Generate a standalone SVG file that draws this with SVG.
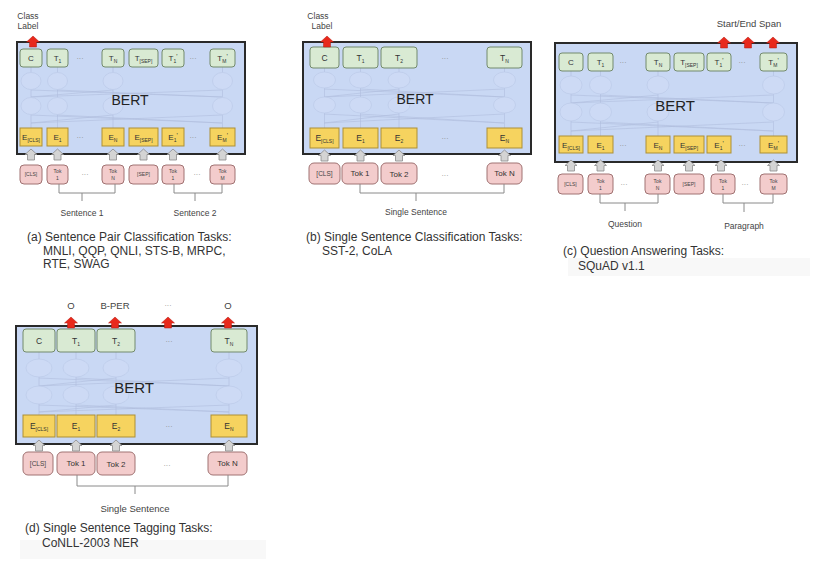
<svg xmlns="http://www.w3.org/2000/svg" width="837" height="571" viewBox="0 0 837 571">
<style>
text{font-family:"Liberation Sans",Arial,sans-serif;fill:#333}
.bert{fill:#c9d8f4;stroke:#2a2a2a;stroke-width:2}
.g{fill:#d9ead3;stroke:#738a6c;stroke-width:1}
.y{fill:#f6d35f;stroke:#ad8f36;stroke-width:1}
.p{fill:#f3cccc;stroke:#a07272;stroke-width:1}
.el{fill:#cddaf5;stroke:#bccae8;stroke-width:0.7}
.nl{stroke:#b0bede;stroke-width:0.6;fill:none}
.br{stroke:#8a8a8a;stroke-width:1;fill:none}
.ga{fill:#d4d4d4;stroke:#8c8c8c;stroke-width:0.8}
.ra{fill:#e8291c;stroke:#b31d12;stroke-width:0.5}
.bt{font-size:14px;fill:#222;text-anchor:middle}
.bt2{font-size:15px;fill:#222;text-anchor:middle}
.lb{font-size:8px;text-anchor:middle;fill:#333}
.lb2{font-size:8.5px;text-anchor:middle;fill:#333}
.sb{font-size:5px}
.pr{font-size:6.5px}
.tk{font-size:5px;text-anchor:middle;fill:#444}
.tk2{font-size:8px;text-anchor:middle;fill:#333}
.tkc{font-size:6.5px;text-anchor:middle;fill:#444}
.dots{font-size:7px;fill:#888;text-anchor:middle}
.cap{font-size:12px;fill:#333}
.sm{font-size:8.5px;text-anchor:middle;fill:#444}
.sm2{font-size:9.5px;text-anchor:middle;fill:#444}
.strip{fill:#f8f8f8}
</style>
<defs>
<polygon id="ga" class="ga" points="0,0 6,5.5 3.5,5.5 3.5,11 -3.5,11 -3.5,5.5 -6,5.5"/>
<polygon id="ra" class="ra" points="0,0 6.5,6 3.5,6 3.5,11 -3.5,11 -3.5,6 -6.5,6"/>
</defs>
<rect width="837" height="571" fill="#ffffff"/>

<!-- ================= PANEL A ================= -->
<g id="panel-a">
  <g id="a-bert">
    <rect class="bert" x="17" y="42" width="228" height="112"/>
    <g id="a-net">
      <path class="nl" d="M31,67V72.5M31,89.5V97.5M31,114.5V128M57.5,67V72.5M57.5,89.5V97.5M57.5,114.5V128M113,67V72.5M113,89.5V97.5M113,114.5V128M222.5,67V72.5M222.5,89.5V97.5M222.5,114.5V128M31,90L222,97M222,90L31,97M57,90L222,97M113,90L31,97M31,115L222,123M222,115L31,123M57,115L222,123M113,115L31,123"/>
      <ellipse class="el" cx="31" cy="81" rx="10" ry="8.5"/>
      <ellipse class="el" cx="57.5" cy="81" rx="10" ry="8.5"/>
      <ellipse class="el" cx="113" cy="81" rx="10" ry="8.5"/>
      <ellipse class="el" cx="222.5" cy="81" rx="10" ry="8.5"/>
      <ellipse class="el" cx="31" cy="106" rx="10" ry="8.5"/>
      <ellipse class="el" cx="57.5" cy="106" rx="10" ry="8.5"/>
      <ellipse class="el" cx="113" cy="106" rx="10" ry="8.5"/>
      <ellipse class="el" cx="222.5" cy="106" rx="10" ry="8.5"/>
    </g>
    <text class="bt" x="130" y="105">BERT</text>
  </g>
  <g id="a-c"><rect class="g" x="20" y="49" width="22" height="18" rx="3"/><text class="lb" x="31" y="61">C</text></g>
  <g id="a-t1"><rect class="g" x="47" y="49" width="21" height="18" rx="3"/><text class="lb" x="57.5" y="61">T<tspan class="sb" dy="2">1</tspan></text></g>
  <text class="dots" x="80" y="61">···</text>
  <g id="a-tn"><rect class="g" x="102" y="49" width="22" height="18" rx="3"/><text class="lb" x="113" y="61">T<tspan class="sb" dy="2">N</tspan></text></g>
  <g id="a-tsep"><rect class="g" x="129" y="49" width="29" height="18" rx="3"/><text class="lb" x="143.5" y="61">T<tspan class="sb" dy="2">[SEP]</tspan></text></g>
  <g id="a-t1p"><rect class="g" x="162" y="49" width="22" height="18" rx="3"/><text class="lb" x="173" y="61">T<tspan class="sb" dy="2">1</tspan><tspan class="pr" dy="-4">'</tspan></text></g>
  <text class="dots" x="193" y="61">···</text>
  <g id="a-tmp"><rect class="g" x="210" y="49" width="25" height="18" rx="3"/><text class="lb" x="222.5" y="61">T<tspan class="sb" dy="2">M</tspan><tspan class="pr" dy="-4">'</tspan></text></g>

  <g id="a-ecls"><rect class="y" x="20" y="128" width="22" height="18"/><text class="lb" x="31" y="140">E<tspan class="sb" dy="2">[CLS]</tspan></text></g>
  <g id="a-e1"><rect class="y" x="47" y="128" width="21" height="18"/><text class="lb" x="57.5" y="140">E<tspan class="sb" dy="2">1</tspan></text></g>
  <text class="dots" x="80" y="140">···</text>
  <g id="a-en"><rect class="y" x="102" y="128" width="22" height="18"/><text class="lb" x="113" y="140">E<tspan class="sb" dy="2">N</tspan></text></g>
  <g id="a-esep"><rect class="y" x="129" y="128" width="29" height="18"/><text class="lb" x="143.5" y="140">E<tspan class="sb" dy="2">[SEP]</tspan></text></g>
  <g id="a-e1p"><rect class="y" x="162" y="128" width="22" height="18"/><text class="lb" x="173" y="140">E<tspan class="sb" dy="2">1</tspan><tspan class="pr" dy="-4">'</tspan></text></g>
  <text class="dots" x="193" y="140">···</text>
  <g id="a-emp"><rect class="y" x="210" y="128" width="25" height="18"/><text class="lb" x="222.5" y="140">E<tspan class="sb" dy="2">M</tspan><tspan class="pr" dy="-4">'</tspan></text></g>

  <g id="a-tokcls"><rect class="p" x="20" y="165" width="22" height="19" rx="4"/><text class="tk" x="31" y="176">[CLS]</text></g>
  <g id="a-tok1"><rect class="p" x="47" y="165" width="21" height="19" rx="4"/><text class="tk" x="57.5" y="173">Tok</text><text class="tk" x="57.5" y="180">1</text></g>
  <text class="dots" x="85" y="177">···</text>
  <g id="a-tokn"><rect class="p" x="102" y="165" width="22" height="19" rx="4"/><text class="tk" x="113" y="173">Tok</text><text class="tk" x="113" y="180">N</text></g>
  <g id="a-toksep"><rect class="p" x="129" y="165" width="29" height="19" rx="4"/><text class="tk" x="143.5" y="176">[SEP]</text></g>
  <g id="a-tok1p"><rect class="p" x="162" y="165" width="22" height="19" rx="4"/><text class="tk" x="173" y="173">Tok</text><text class="tk" x="173" y="180">1</text></g>
  <text class="dots" x="197" y="177">···</text>
  <g id="a-tokm"><rect class="p" x="210" y="165" width="25" height="19" rx="4"/><text class="tk" x="222.5" y="173">Tok</text><text class="tk" x="222.5" y="180">M</text></g>

  <g id="a-label"><text class="sm" x="28" y="19">Class</text><text class="sm" x="28" y="29">Label</text></g>
  <text class="sm" x="82" y="216">Sentence 1</text>
  <text class="sm" x="195" y="216">Sentence 2</text>
  <g id="a-caption">
    <text class="cap" x="27" y="241">(a) Sentence Pair Classification Tasks:</text>
    <text class="cap" x="43" y="255">MNLI, QQP, QNLI, STS-B, MRPC,</text>
    <text class="cap" x="43" y="268">RTE, SWAG</text>
  </g>
</g>

<!-- ================= PANEL B ================= -->
<g id="panel-b">
  <g id="b-bert">
    <rect class="bert" x="303" y="42" width="228" height="112"/>
    <g id="b-net">
      <path class="nl" d="M324.5,68V72M324.5,88V97M324.5,113V128M360.5,68V72M360.5,88V97M360.5,113V128M399,68V72M399,88V97M399,113V128M504.5,68V72M504.5,88V97M504.5,113V128M324,89L504,97M504,89L324,97M360,89L504,97M399,89L324,97M324,114L504,123M504,114L324,123M360,114L504,123M399,114L324,123"/>
      <ellipse class="el" cx="324.5" cy="80" rx="11" ry="8"/>
      <ellipse class="el" cx="360.5" cy="80" rx="11" ry="8"/>
      <ellipse class="el" cx="399" cy="80" rx="11" ry="8"/>
      <ellipse class="el" cx="504.5" cy="80" rx="11" ry="8"/>
      <ellipse class="el" cx="324.5" cy="105" rx="11" ry="8"/>
      <ellipse class="el" cx="360.5" cy="105" rx="11" ry="8"/>
      <ellipse class="el" cx="399" cy="105" rx="11" ry="8"/>
      <ellipse class="el" cx="504.5" cy="105" rx="11" ry="8"/>
    </g>
    <text class="bt" x="415" y="104">BERT</text>
  </g>
  <g id="b-c"><rect class="g" x="310" y="47" width="29" height="21" rx="3"/><text class="lb2" x="324.5" y="61">C</text></g>
  <g id="b-t1"><rect class="g" x="343" y="47" width="35" height="21" rx="3"/><text class="lb2" x="360.5" y="61">T<tspan class="sb" dy="2">1</tspan></text></g>
  <g id="b-t2"><rect class="g" x="381" y="47" width="36" height="21" rx="3"/><text class="lb2" x="399" y="61">T<tspan class="sb" dy="2">2</tspan></text></g>
  <text class="dots" x="445" y="61">···</text>
  <g id="b-tn"><rect class="g" x="487" y="47" width="35" height="21" rx="3"/><text class="lb2" x="504.5" y="61">T<tspan class="sb" dy="2">N</tspan></text></g>

  <g id="b-ecls"><rect class="y" x="310" y="128" width="29" height="20"/><text class="lb2" x="324.5" y="141">E<tspan class="sb" dy="2">[CLS]</tspan></text></g>
  <g id="b-e1"><rect class="y" x="343" y="128" width="35" height="20"/><text class="lb2" x="360.5" y="141">E<tspan class="sb" dy="2">1</tspan></text></g>
  <g id="b-e2"><rect class="y" x="381" y="128" width="36" height="20"/><text class="lb2" x="399" y="141">E<tspan class="sb" dy="2">2</tspan></text></g>
  <text class="dots" x="445" y="141">···</text>
  <g id="b-en"><rect class="y" x="487" y="128" width="35" height="20"/><text class="lb2" x="504.5" y="141">E<tspan class="sb" dy="2">N</tspan></text></g>

  <g id="b-tokcls"><rect class="p" x="309" y="163" width="31" height="21" rx="5"/><text class="tkc" x="324.5" y="176">[CLS]</text></g>
  <g id="b-tok1"><rect class="p" x="342" y="163" width="36" height="21" rx="5"/><text class="tk2" x="360" y="176">Tok 1</text></g>
  <g id="b-tok2"><rect class="p" x="381" y="163" width="36" height="21" rx="5"/><text class="tk2" x="399" y="177">Tok 2</text></g>
  <text class="dots" x="445" y="178">···</text>
  <g id="b-tokn"><rect class="p" x="487" y="163" width="35" height="21" rx="5"/><text class="tk2" x="504.5" y="176">Tok N</text></g>

  <g id="b-label"><text class="sm" x="318" y="19">Class</text><text class="sm" x="322" y="29">Label</text></g>
  <text class="sm" x="416" y="215">Single Sentence</text>
  <g id="b-caption">
    <text class="cap" x="306" y="241">(b) Single Sentence Classification Tasks:</text>
    <text class="cap" x="322" y="255">SST-2, CoLA</text>
  </g>
</g>

<!-- ================= PANEL C ================= -->
<g id="panel-c">
  <rect class="strip" x="568" y="258" width="242" height="18"/>
  <g id="c-bert">
    <rect class="bert" x="555" y="43" width="242" height="119"/>
    <g id="c-net">
      <path class="nl" d="M571,71V76M571,94V103M571,121V136M600.5,71V76M600.5,94V103M600.5,121V136M658,71V76M658,94V103M658,121V136M773.5,71V76M773.5,94V103M773.5,121V136M571,95L773,103M773,95L571,103M600,95L773,103M658,95L571,103M571,122L773,131M773,122L571,131M600,122L773,131M658,122L571,131"/>
      <ellipse class="el" cx="571" cy="85" rx="11" ry="9"/>
      <ellipse class="el" cx="600.5" cy="85" rx="11" ry="9"/>
      <ellipse class="el" cx="658" cy="85" rx="11" ry="9"/>
      <ellipse class="el" cx="773.5" cy="85" rx="11" ry="9"/>
      <ellipse class="el" cx="571" cy="112" rx="11" ry="9"/>
      <ellipse class="el" cx="600.5" cy="112" rx="11" ry="9"/>
      <ellipse class="el" cx="658" cy="112" rx="11" ry="9"/>
      <ellipse class="el" cx="773.5" cy="112" rx="11" ry="9"/>
    </g>
    <text class="bt2" x="675" y="111">BERT</text>
  </g>
  <g id="c-c"><rect class="g" x="559" y="53" width="24" height="18" rx="3"/><text class="lb" x="571" y="65">C</text></g>
  <g id="c-t1"><rect class="g" x="588" y="53" width="25" height="18" rx="3"/><text class="lb" x="600.5" y="65">T<tspan class="sb" dy="2">1</tspan></text></g>
  <text class="dots" x="623" y="65">···</text>
  <g id="c-tn"><rect class="g" x="646" y="53" width="24" height="18" rx="3"/><text class="lb" x="658" y="65">T<tspan class="sb" dy="2">N</tspan></text></g>
  <g id="c-tsep"><rect class="g" x="674" y="53" width="30" height="18" rx="3"/><text class="lb" x="689" y="65">T<tspan class="sb" dy="2">[SEP]</tspan></text></g>
  <g id="c-t1p"><rect class="g" x="707" y="53" width="24" height="18" rx="3"/><text class="lb" x="719" y="65">T<tspan class="sb" dy="2">1</tspan><tspan class="pr" dy="-4">'</tspan></text></g>
  <text class="dots" x="742" y="65">···</text>
  <g id="c-tmp"><rect class="g" x="760" y="53" width="27" height="18" rx="3"/><text class="lb" x="773.5" y="65">T<tspan class="sb" dy="2">M</tspan><tspan class="pr" dy="-4">'</tspan></text></g>

  <g id="c-ecls"><rect class="y" x="559" y="136" width="24" height="17"/><text class="lb" x="571" y="148">E<tspan class="sb" dy="2">[CLS]</tspan></text></g>
  <g id="c-e1"><rect class="y" x="588" y="136" width="25" height="17"/><text class="lb" x="600.5" y="148">E<tspan class="sb" dy="2">1</tspan></text></g>
  <text class="dots" x="623" y="148">···</text>
  <g id="c-en"><rect class="y" x="646" y="136" width="24" height="17"/><text class="lb" x="658" y="148">E<tspan class="sb" dy="2">N</tspan></text></g>
  <g id="c-esep"><rect class="y" x="674" y="136" width="30" height="17"/><text class="lb" x="689" y="148">E<tspan class="sb" dy="2">[SEP]</tspan></text></g>
  <g id="c-e1p"><rect class="y" x="707" y="136" width="24" height="17"/><text class="lb" x="719" y="148">E<tspan class="sb" dy="2">1</tspan><tspan class="pr" dy="-4">'</tspan></text></g>
  <text class="dots" x="742" y="148">···</text>
  <g id="c-emp"><rect class="y" x="760" y="136" width="27" height="17"/><text class="lb" x="773.5" y="148">E<tspan class="sb" dy="2">M</tspan><tspan class="pr" dy="-4">'</tspan></text></g>

  <g id="c-tokcls"><rect class="p" x="558" y="174" width="25" height="20" rx="4"/><text class="tk" x="570.5" y="186">[CLS]</text></g>
  <g id="c-tok1"><rect class="p" x="588" y="174" width="25" height="20" rx="4"/><text class="tk" x="600.5" y="183">Tok</text><text class="tk" x="600.5" y="190">1</text></g>
  <text class="dots" x="624" y="187">···</text>
  <g id="c-tokn"><rect class="p" x="645" y="174" width="25" height="20" rx="4"/><text class="tk" x="657.5" y="183">Tok</text><text class="tk" x="657.5" y="190">N</text></g>
  <g id="c-toksep"><rect class="p" x="674" y="174" width="30" height="20" rx="4"/><text class="tk" x="689" y="186">[SEP]</text></g>
  <g id="c-tok1p"><rect class="p" x="711" y="174" width="24" height="20" rx="4"/><text class="tk" x="723" y="183">Tok</text><text class="tk" x="723" y="190">1</text></g>
  <text class="dots" x="745" y="187">···</text>
  <g id="c-tokm"><rect class="p" x="760" y="174" width="27" height="20" rx="4"/><text class="tk" x="773.5" y="183">Tok</text><text class="tk" x="773.5" y="190">M</text></g>

  <text class="sm2" x="749" y="27">Start/End Span</text>
  <text class="sm" x="625" y="227">Question</text>
  <text class="sm" x="744" y="229">Paragraph</text>
  <g id="c-caption">
    <text class="cap" x="563" y="255">(c) Question Answering Tasks:</text>
    <text class="cap" x="578" y="270">SQuAD v1.1</text>
  </g>
</g>

<!-- ================= PANEL D ================= -->
<g id="panel-d">
  <rect class="strip" x="20" y="540" width="246" height="19"/>
  <g id="d-bert">
    <rect class="bert" x="16" y="326" width="241" height="118"/>
    <g id="d-net">
      <path class="nl" d="M39,352V359M39,377V386M39,404V415M76,352V359M76,377V386M76,404V415M116,352V359M116,377V386M116,404V415M229,352V359M229,377V386M229,404V415M39,378L229,386M229,378L39,386M76,378L229,386M116,378L39,386M39,405L229,412M229,405L39,412M76,405L229,412M116,405L39,412"/>
      <ellipse class="el" cx="39" cy="368" rx="13" ry="9"/>
      <ellipse class="el" cx="76" cy="368" rx="13" ry="9"/>
      <ellipse class="el" cx="116" cy="368" rx="13" ry="9"/>
      <ellipse class="el" cx="229" cy="368" rx="13" ry="9"/>
      <ellipse class="el" cx="39" cy="395" rx="13" ry="9"/>
      <ellipse class="el" cx="76" cy="395" rx="13" ry="9"/>
      <ellipse class="el" cx="116" cy="395" rx="13" ry="9"/>
      <ellipse class="el" cx="229" cy="395" rx="13" ry="9"/>
    </g>
    <text class="bt2" x="134" y="393">BERT</text>
  </g>
  <g id="d-c"><rect class="g" x="23" y="329" width="32" height="23" rx="3"/><text class="lb2" x="39" y="344">C</text></g>
  <g id="d-t1"><rect class="g" x="57" y="329" width="38" height="23" rx="3"/><text class="lb2" x="76" y="344">T<tspan class="sb" dy="2">1</tspan></text></g>
  <g id="d-t2"><rect class="g" x="97" y="329" width="38" height="23" rx="3"/><text class="lb2" x="116" y="344">T<tspan class="sb" dy="2">2</tspan></text></g>
  <text class="dots" x="169" y="344">···</text>
  <g id="d-tn"><rect class="g" x="211" y="329" width="36" height="23" rx="3"/><text class="lb2" x="229" y="344">T<tspan class="sb" dy="2">N</tspan></text></g>

  <g id="d-ecls"><rect class="y" x="23" y="415" width="32" height="22"/><text class="lb2" x="39" y="429">E<tspan class="sb" dy="2">[CLS]</tspan></text></g>
  <g id="d-e1"><rect class="y" x="57" y="415" width="38" height="22"/><text class="lb2" x="76" y="429">E<tspan class="sb" dy="2">1</tspan></text></g>
  <g id="d-e2"><rect class="y" x="97" y="415" width="38" height="22"/><text class="lb2" x="116" y="429">E<tspan class="sb" dy="2">2</tspan></text></g>
  <text class="dots" x="169" y="429">···</text>
  <g id="d-en"><rect class="y" x="211" y="415" width="36" height="22"/><text class="lb2" x="229" y="429">E<tspan class="sb" dy="2">N</tspan></text></g>

  <g id="d-tokcls"><rect class="p" x="23" y="452" width="30" height="23" rx="5"/><text class="tkc" x="38" y="466">[CLS]</text></g>
  <g id="d-tok1"><rect class="p" x="57" y="452" width="38" height="23" rx="5"/><text class="tk2" x="76" y="466">Tok 1</text></g>
  <g id="d-tok2"><rect class="p" x="97" y="452" width="38" height="23" rx="5"/><text class="tk2" x="116" y="467">Tok 2</text></g>
  <text class="dots" x="167" y="468">···</text>
  <g id="d-tokn"><rect class="p" x="208" y="452" width="39" height="23" rx="5"/><text class="tk2" x="227.5" y="466">Tok N</text></g>

  <g id="d-labels">
    <text class="sm2" x="71" y="309">O</text>
    <text class="sm2" x="115" y="309">B-PER</text>
    <text class="dots" x="168" y="308">···</text>
    <text class="sm2" x="228" y="309">O</text>
  </g>
  <text class="sm2" x="135" y="512">Single Sentence</text>
  <g id="d-caption">
    <text class="cap" x="25" y="532">(d) Single Sentence Tagging Tasks:</text>
    <text class="cap" x="42" y="547">CoNLL-2003 NER</text>
  </g>
</g>

<!-- ================= CONNECTORS ================= -->
<g id="connectors">
  <path class="br" d="M59,184V193H115V184M82,193V201M174,184V193H222V184M195,193V201"/>
  <path class="br" d="M360,184V193H504V184M416,193V201"/>
  <path class="br" d="M600,194V203H658V194M625,203V211M723,194V203H773V194M744,203V212"/>
  <path class="br" d="M77,475V486H228V475M135,486V494"/>
  <g id="gray-arrows">
    <use href="#ga" x="31" y="149"/><use href="#ga" x="57.5" y="149"/><use href="#ga" x="113" y="149"/><use href="#ga" x="143.5" y="149"/><use href="#ga" x="173" y="149"/><use href="#ga" x="222.5" y="149"/>
    <use href="#ga" x="324.5" y="150"/><use href="#ga" x="360.5" y="150"/><use href="#ga" x="399" y="150"/><use href="#ga" x="504.5" y="150"/>
    <use href="#ga" x="571" y="160"/><use href="#ga" x="600.5" y="160"/><use href="#ga" x="658" y="160"/><use href="#ga" x="689" y="160"/><use href="#ga" x="721" y="160"/><use href="#ga" x="773.5" y="160"/>
    <use href="#ga" x="39" y="440"/><use href="#ga" x="76" y="440"/><use href="#ga" x="116" y="440"/><use href="#ga" x="229" y="440"/>
  </g>
  <g id="red-arrows">
    <use href="#ra" x="33" y="36"/>
    <use href="#ra" x="327" y="36"/>
    <use href="#ra" x="724" y="37"/><use href="#ra" x="748" y="37"/><use href="#ra" x="773" y="37"/>
    <use href="#ra" x="71" y="317"/><use href="#ra" x="115" y="317"/><use href="#ra" x="168" y="317"/><use href="#ra" x="228" y="317"/>
  </g>
</g>
</svg>
